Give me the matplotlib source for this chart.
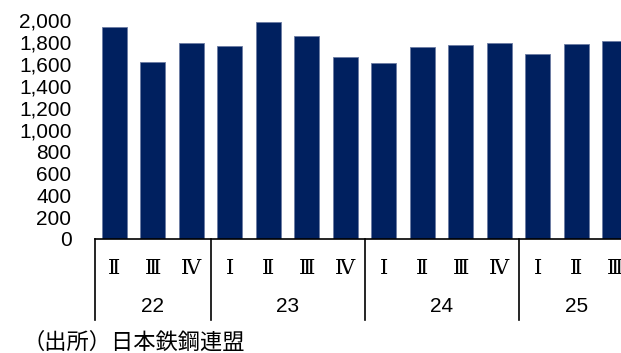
import matplotlib
matplotlib.use("Agg")
import matplotlib.pyplot as plt
import matplotlib.transforms as mtransforms

years = ['22', '23', '24', '25']
group_sizes = [3, 4, 4, 3]
quarters = ['Ⅱ', 'Ⅲ', 'Ⅳ', 'Ⅰ', 'Ⅱ', 'Ⅲ', 'Ⅳ', 'Ⅰ', 'Ⅱ', 'Ⅲ', 'Ⅳ', 'Ⅰ', 'Ⅱ', 'Ⅲ']
values = [1936, 1619, 1787, 1765, 1985, 1857, 1659, 1610, 1750, 1768, 1787, 1689, 1784, 1811]
yticks = [0, 200, 400, 600, 800, 1000, 1200, 1400, 1600, 1800, 2000]
source = '（出所）日本鉄鋼連盟'

W, H = 621, 353
fig = plt.figure(figsize=(W / 100, H / 100), dpi=100)
ax = fig.add_axes([95 / W, 1 - 239 / H, 539 / W, 219 / H])

x = list(range(len(values)))
ax.bar(x, values, width=0.65, color='#00205f', edgecolor='#6b7ba3', linewidth=0.6, zorder=2)

ax.set_xlim(-0.5, len(values) - 0.5)
ax.set_ylim(0, 2000)
ax.set_yticks(yticks)
ax.set_yticklabels([f'{v:,}' for v in yticks], fontfamily='Liberation Sans', fontsize=15)
ax.tick_params(axis='y', length=0, pad=17)
ax.set_xticks([])
for s in ['top', 'right', 'left']:
    ax.spines[s].set_visible(False)
ax.spines['bottom'].set_linewidth(1.2)
ax.spines['bottom'].set_color('black')

trans = mtransforms.blended_transform_factory(ax.transData, ax.transAxes)
y_line_bottom = (239 - 320) / 219
y_quarter = (239 - 268) / 219
y_year = (239 - 307) / 219

for i, q in enumerate(quarters):
    ax.text(i, y_quarter, q, transform=trans, ha='center', va='center',
            fontsize=15, family=['DejaVu Serif', 'Noto Sans CJK JP'], clip_on=False)

start = 0
bounds = [0]
for g in group_sizes:
    start += g
    bounds.append(start)
for b in bounds:
    ax.plot([b - 0.5, b - 0.5], [0, y_line_bottom], transform=trans, color='black',
            lw=1.2, clip_on=False)
for i, y in enumerate(years):
    c = (bounds[i] + bounds[i + 1] - 1) / 2
    ax.text(c, y_year, y, transform=trans, ha='center', va='center',
            fontsize=15, family='Liberation Sans', clip_on=False)

fig.text(22 / W, 1 - 342 / H, source, ha='left', va='center', fontsize=16,
         family=['Noto Sans CJK JP', 'DejaVu Sans'])

fig.savefig('out.png', dpi=100)
